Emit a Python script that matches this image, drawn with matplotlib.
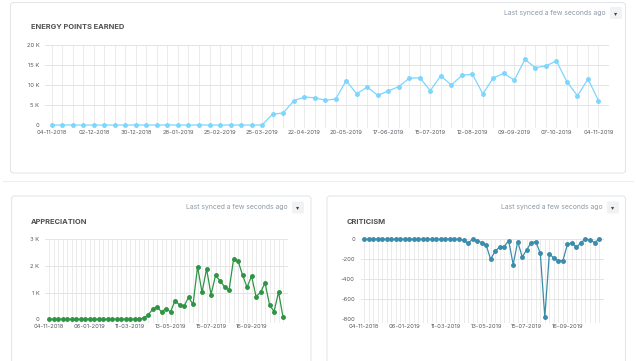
import matplotlib
matplotlib.use("Agg")
import matplotlib.pyplot as plt
from matplotlib.patches import FancyBboxPatch

plt.rcParams['font.family'] = ['Inter', 'DejaVu Sans']

# ---------------- data ----------------
weeks = list(range(53))  # weekly buckets 04-11-2018 .. 04-11-2019

energy_points = [0, 0, 0, 0, 0, 0, 0, 0, 0, 0, 0, 0, 0, 0, 0, 0, 0, 0, 0, 0, 0,
                 2700, 3000, 6000, 7000, 6800, 6200, 6500, 11100, 7800, 9500,
                 7400, 8500, 9600, 11700, 11800, 8600, 12300, 10000, 12400,
                 12700, 7800, 11800, 12900, 11200, 16400, 14300, 14800, 16000,
                 10800, 7300, 11500, 6100]

appreciation = [0, 0, 0, 0, 0, 0, 0, 0, 0, 0, 0, 0, 0, 0, 0, 0, 0, 0, 0, 0, 0,
                50, 160, 370, 460, 280, 400, 280, 700, 540, 500, 820, 560,
                1970, 1010, 1890, 930, 1650, 1440, 1220, 1090, 2250, 2190,
                1660, 1200, 1620, 850, 1010, 1370, 540, 290, 1020, 70]

criticism = [0, 0, 0, 0, 0, 0, 0, 0, 0, 0, 0, 0, 0, 0, 0, 0, 0, 0, 0, 0, 0, 0,
             -10, -40, 0, -13, -32, -57, -198, -120, -75, -73, -12, -253, -22,
             -178, -103, -33, -23, -140, -778, -142, -190, -213, -213, -51,
             -33, -79, -32, 0, -5, -33, 0]

top_tick_pos = [0, 4, 8, 12, 16, 20, 24, 28, 32, 36, 40, 44, 48, 52]
top_tick_labels = ['04-11-2018', '02-12-2018', '30-12-2018', '28-01-2019',
                   '25-02-2019', '25-03-2019', '22-04-2019', '20-05-2019',
                   '17-06-2019', '15-07-2019', '12-08-2019', '09-09-2019',
                   '07-10-2019', '04-11-2019']
bottom_tick_pos = [0, 9, 18, 27, 36, 45]
bottom_tick_labels = ['04-11-2018', '06-01-2019', '11-03-2019', '13-05-2019',
                      '15-07-2019', '16-09-2019']

energy_yticks = [0, 5000, 10000, 15000, 20000]
energy_ylabels = ['0', '5 K', '10 K', '15 K', '20 K']
appr_yticks = [0, 1000, 2000, 3000]
appr_ylabels = ['0', '1 K', '2 K', '3 K']
crit_yticks = [-800, -600, -400, -200, 0]
crit_ylabels = ['-800', '-600', '-400', '-200', '0']

# ---------------- figure ----------------
W, H = 636, 361
fig = plt.figure(figsize=(W / 100, H / 100), dpi=100)
fig.patch.set_facecolor('white')

bg = fig.add_axes([0, 0, 1, 1])
bg.set_xlim(0, W)
bg.set_ylim(H, 0)
bg.axis('off')

CARD_EDGE = '#e3e7ea'


def card(x0, y0, x1, y1):
    bg.add_patch(FancyBboxPatch((x0, y0), x1 - x0, y1 - y0,
                                boxstyle='round,pad=0,rounding_size=3',
                                fc='white', ec=CARD_EDGE, lw=0.8))


def header(title, tx, ty, right, sync_y):
    bg.text(tx, ty, title, fontsize=5.4, fontweight='bold', color='#505050',
            ha='left', va='center')
    bg.text(right - 18, sync_y, 'Last synced a few seconds ago', fontsize=4.9,
            color='#8d99a6', ha='right', va='center')
    bg.add_patch(FancyBboxPatch((right - 14, sync_y - 6), 12, 12,
                                boxstyle='round,pad=0,rounding_size=1.5',
                                fc='#f0f2f4', ec='none'))
    bg.text(right - 8, sync_y + 0.3, '\u25be', fontsize=4.5, color='#444',
            ha='center', va='center', family='DejaVu Sans')


# cards
card(10.5, 2.5, 625.5, 173)
bg.plot([3, 633], [181, 181], color='#eceff1', lw=0.8)
card(11.5, 196, 311, 375)
card(327, 196, 625.5, 375)

header('ENERGY POINTS EARNED', 31, 27, 624, 13)
header('APPRECIATION', 31, 221.5, 306, 207.5)
header('CRITICISM', 347, 221.5, 621, 207.5)


def px_axes(left, top, right, bottom):
    return fig.add_axes([left / W, 1 - bottom / H, (right - left) / W,
                         (bottom - top) / H])


def style_axes(ax, values, color, xlim, ylim, yticks, ylabels, xpos, xlabels):
    ax.set_xlim(*xlim)
    ax.set_ylim(*ylim)
    for s in ax.spines.values():
        s.set_visible(False)
    ax.set_facecolor('none')
    # vertical grid at every data point
    for w in weeks:
        ax.axvline(w, color='#ebebeb', lw=0.7, zorder=0,
                   ymin=-0.03, ymax=1, clip_on=False)
    for yv in yticks:
        ax.axhline(yv, color='#e4e4e4', lw=0.7, zorder=0)
    ax.set_yticks(yticks)
    ax.set_yticklabels(ylabels)
    ax.set_xticks(xpos)
    ax.set_xticklabels(xlabels)
    ax.tick_params(axis='both', length=0, labelsize=4.2, labelcolor='#555b61')
    ax.tick_params(axis='y', pad=4)
    ax.tick_params(axis='x', pad=3.5)
    ax.plot(weeks, values, color=color, lw=0.9, marker='o', ms=2.5,
            mec=color, mfc=color, zorder=3, clip_on=False)


ax1 = px_axes(45, 45, 609, 125)
style_axes(ax1, energy_points, '#7cd6fd', (-0.65, 53.0), (0, 20000),
           energy_yticks, energy_ylabels, top_tick_pos, top_tick_labels)

ax2 = px_axes(45, 239.3, 288, 319.3)
style_axes(ax2, appreciation, '#2e9444', (-0.9, 53.1), (0, 3000),
           appr_yticks, appr_ylabels, bottom_tick_pos, bottom_tick_labels)

ax3 = px_axes(360.5, 239.3, 604, 319.3)
style_axes(ax3, criticism, '#3a8cab', (-0.8, 53.1), (-800, 0),
           crit_yticks, crit_ylabels, bottom_tick_pos, bottom_tick_labels)

fig.savefig('out.png', dpi=100, facecolor='white')
